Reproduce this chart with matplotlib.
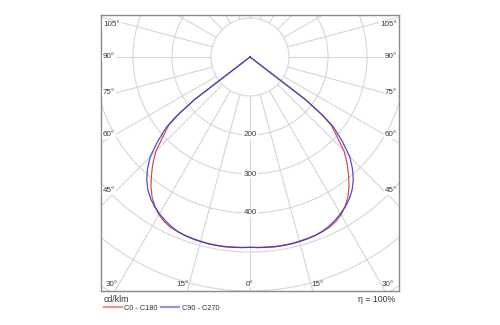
import numpy as np
import matplotlib
matplotlib.use("Agg")
import matplotlib.pyplot as plt
from matplotlib.patches import Circle

plt.rcParams['font.family'] = ['Liberation Sans', 'DejaVu Sans']

# Luminous intensity distribution (cd/klm) versus gamma angle, symmetric planes
gamma = [0, 2.5, 5, 7.5, 10, 12.5, 15, 17.5, 20, 22.5, 25, 27.5, 30, 32.5,
         35, 37.5, 40, 42.5, 45, 47.5, 50, 51.25, 52.5, 55, 90]
c0_c180 = [488, 489, 489, 490, 490, 490, 489, 488, 487, 485, 482, 476, 467, 454,
           438, 417, 393, 368, 341, 303, 272, 236, 178, 0, 0]
c90_c270 = [488, 489, 490, 491, 491, 491, 490, 489, 487, 484, 479, 472, 464, 455,
            444, 430, 412, 389, 362, 322, 280, 240, 180, 0, 0]
series_names = ["C0 - C180", "C90 - C270"]
series_colors = ["#d23c3c", "#3c3cc4"]

ring_values = [100, 200, 300, 400, 500, 600, 700]
ring_labels = [200, 300, 400]
spoke_angles = np.arange(-180, 181, 15)
side_labels = [45, 60, 75, 90, 105]
bottom_labels = [-30, -15, 0, 15, 30]
efficiency = "η = 100%"
unit = "cd/klm"

W, H = 500, 325
fig = plt.figure(figsize=(W / 100, H / 100), dpi=100)

# plot box in pixels
bx0, bx1, by0, by1 = 101, 399, 15, 291
cx, cy = 250, 57           # pole position in pixels
scale = 0.39               # pixels per cd/klm
xmin, xmax = (bx0 - cx) / scale, (bx1 - cx) / scale
ymin, ymax = -(by1 - cy) / scale, (cy - by0) / scale
ax = fig.add_axes([bx0 / W, 1 - by1 / H, (bx1 - bx0) / W, (by1 - by0) / H])
ax.set_xlim(xmin, xmax)
ax.set_ylim(ymin, ymax)
ax.set_xticks([])
ax.set_yticks([])
for s in ax.spines.values():
    s.set_color("#8a8a8a")
    s.set_linewidth(1.0)

px = 1 / scale  # one pixel in data units
grid_color, grid_lw = "#d6d6d6", 0.8

# polar grid: rings and spokes (spokes start at the first ring)
for r in ring_values:
    ax.add_patch(Circle((0, 0), r, fill=False, ec=grid_color, lw=grid_lw, zorder=1))
for a in spoke_angles:
    t = np.deg2rad(a)
    rr = np.array([ring_values[0], 2000])
    ax.plot(rr * np.sin(t), -rr * np.cos(t), color=grid_color, lw=grid_lw, zorder=1)

# intensity curves: mirrored halves joined through the pole
def curve(values):
    g = np.array(gamma, float)
    v = np.array(values, float)
    th = np.deg2rad(np.concatenate([-g[::-1], g[1:]]))
    rv = np.concatenate([v[::-1], v[1:]])
    return rv * np.sin(th), -rv * np.cos(th)

handles = []
for vals, name, col in zip([c0_c180, c90_c270], series_names, series_colors):
    x, y = curve(vals)
    h, = ax.plot(x, y, color=col, lw=0.9, alpha=0.9, label=name, zorder=3)
    handles.append(h)

lab_kw = dict(fontsize=5.8, color="#3a3a3a", zorder=4)
wb = dict(boxstyle="square,pad=0.12", fc="white", ec="none")

# ring value labels along the 0° spoke
for r in ring_labels:
    ax.text(0, -r, str(r), ha="center", va="center", bbox=wb, **lab_kw)

# angle labels on the left and right edges
xprobe = xmax - 15 * px
for a in side_labels:
    t = np.deg2rad(a)
    yl = -xprobe * np.cos(t) / np.sin(t)
    yl = min(yl, ymax - 10 * px)
    ax.text(xmin + 2 * px, yl, f"{a}°", ha="left", va="center", bbox=wb, **lab_kw)
    ax.text(xmax - 2 * px, yl, f"{a}°", ha="right", va="center", bbox=wb, **lab_kw)

# angle labels along the bottom edge, set beside their spokes
yb = ymin + 7 * px
for a in bottom_labels:
    xl = -yb * np.tan(np.deg2rad(a))
    if a < 0:
        ax.text(xl - 1 * px, yb, f"{abs(a)}°", ha="right", va="center", **lab_kw)
    elif a > 0:
        ax.text(xl + 1 * px, yb, f"{a}°", ha="left", va="center", **lab_kw)
    else:
        ax.text(0, yb, "0°", ha="center", va="center", bbox=wb, **lab_kw)

# unit, efficiency and legend below the box
fig.text(104 / W, 1 - 300 / H, unit, ha="left", va="center", fontsize=6.3, color="#333333")
fig.text(395 / W, 1 - 299 / H, efficiency, ha="right", va="center", fontsize=6.3, color="#333333")
leg = ax.legend(handles=handles, loc="center left", ncol=2, frameon=False,
                bbox_to_anchor=((104 - bx0) / (bx1 - bx0), (by1 - 308) / (by1 - by0)),
                borderaxespad=0, borderpad=0, fontsize=5.3, handlelength=2.4,
                handletextpad=0.35, columnspacing=0.5)
for t in leg.get_texts():
    t.set_color("#333333")
for l in leg.get_lines():
    l.set_linewidth(1.6)
    l.set_alpha(0.55)

fig.savefig("out.png", dpi=100)
